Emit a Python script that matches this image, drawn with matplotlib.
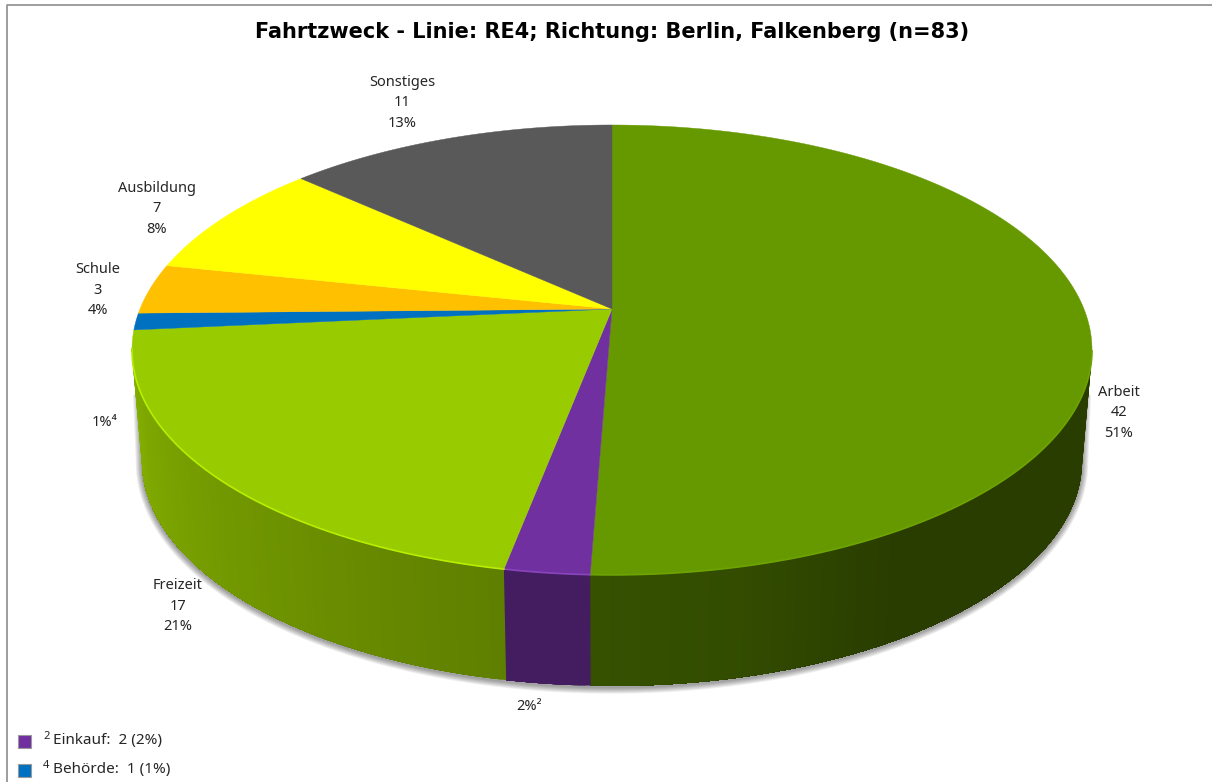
#!/usr/env/python
import numpy as np
from matplotlib import pyplot as plt
from matplotlib.patches import Rectangle

plt.rcParams['font.family'] = ['Noto Sans', 'DejaVu Sans']

# data, clockwise from the top
names = ['Arbeit', 'Einkauf', 'Freizeit', 'Behörde', 'Schule', 'Ausbildung', 'Sonstiges']
values = [42, 2, 17, 1, 3, 7, 11]
percents = [51, 2, 21, 1, 4, 8, 13]
colors = ['#669900', '#7030A0', '#99CC00', '#0070C0', '#FFC000', '#FFFF00', '#595959']
rim_colors = ['#6ea400', '#8a45bd', '#b8ee00', '#0070C0', '#FFC000', '#FFFF00', '#595959']
title = 'Fahrtzweck - Linie: RE4; Richtung: Berlin, Falkenberg (n=83)'

# where the labels sit (pixels)
label_pos = {'Arbeit': (1119, 412), 'Freizeit': (178, 605), 'Schule': (98, 289),
             'Ausbildung': (157, 208), 'Sonstiges': (402, 102)}
note_pos = {'Einkauf': (529, 706, '²'), 'Behörde': (105, 421, '⁴')}
legend_y = [741.5, 770.5]
legend_names = ['Einkauf', 'Behörde']
legend_marks = ['2', '4']

# pie geometry in pixels, slight perspective so the apex is behind the centre
cx, cy = 612, 309
depth = 111
k = -0.182
A = 472.0
B = 217.5
base_scale = 470 / 480
wall_from, wall_to = np.radians(100), np.radians(260)
txt = '#262626'


def rim(theta, scale=1.0, dy=0.0):
    u = np.sin(theta)
    v = -np.cos(theta)
    d = 1 + k * v
    return cx + scale * A * u / d, cy + dy + B * v / d


def shade(theta, name):
    # wall brightness along the front of the pie
    deg = np.degrees(theta)
    if name == 'Einkauf':
        return 0.60
    return np.interp(deg, [100, 150, 168, 182, 191, 260], [0.40, 0.40, 0.50, 0.53, 0.62, 0.87])


def darken(col, f):
    rgb = np.array(plt.matplotlib.colors.to_rgb(col))
    return tuple(rgb * f)


fig = plt.figure(figsize=(12.12, 7.82), dpi=100)
ax = fig.add_axes([0, 0, 1, 1])
ax.set_xlim(0, 1212)
ax.set_ylim(782, 0)
ax.axis('off')

# frame lines
ax.plot([7, 7, 1212], [782, 5, 5], color='#8c8c8c', lw=1.2)

edges = np.cumsum([0] + values) / sum(values) * 2 * np.pi

# soft shadow round the wall, starts partway down the sides
front = np.linspace(wall_from, wall_to, 300)
bx, by = rim(front, base_scale, depth)
tx0, ty0 = rim(wall_from, 0.985, 45)
tx1, ty1 = rim(wall_to, 0.985, 45)
sx = np.r_[tx0, bx, tx1]
sy = np.r_[ty0, by, ty1]
for lw in np.arange(9, 1, -1.5):
    ax.plot(sx, sy + 1.5, color='black', alpha=0.07, lw=lw, solid_capstyle='butt', zorder=1)

# side wall, each strip overpaints the rest of its slice so no seams show
for name, a0, a1, col in zip(names, edges[:-1], edges[1:], colors):
    lo = max(a0, wall_from)
    hi = min(a1, wall_to)
    if hi <= lo:
        continue
    n = max(2, int(np.degrees(hi - lo) * 2))
    th = np.linspace(lo, hi, n + 1)
    for i in range(n):
        seg = th[i:]
        x1, y1 = rim(seg)
        x2, y2 = rim(seg, base_scale, depth)
        fc = darken(col, shade((th[i] + th[i + 1]) / 2, name))
        ax.fill(np.r_[x1, x2[::-1]], np.r_[y1, y2[::-1]], color=fc, lw=0, zorder=2)

# top surface
for a0, a1, col, rc in zip(edges[:-1], edges[1:], colors, rim_colors):
    th = np.linspace(a0, a1, 200)
    x, y = rim(th)
    ax.fill(np.r_[cx, x], np.r_[cy, y], color=col, lw=0.3, ec=col, zorder=3)
    vis = th[(th > wall_from) & (th < wall_to)]
    if vis.size:
        xr, yr = rim(vis)
        ax.plot(xr, yr, color=rc, lw=1.2, zorder=4)

# labels
for name, val, pct in zip(names, values, percents):
    if name in label_pos:
        x, y = label_pos[name]
        for off, s in zip([-20.5, 0, 20.5], [name, str(val), '%d%%' % pct]):
            ax.text(x, y + off + 1, s, ha='center', va='center', fontsize=10.5, color=txt, zorder=5)
    else:
        x, y, mark = note_pos[name]
        ax.text(x, y + 1, '%d%%%s' % (pct, mark), ha='center', va='center', fontsize=10.5, color=txt, zorder=5)

# small slices legend
for name, mark, y in zip(legend_names, legend_marks, legend_y):
    i = names.index(name)
    ax.add_patch(Rectangle((18, y - 6.5), 13, 13, fc=colors[i], ec='#9a9a9a', lw=0.8, zorder=5))
    ax.text(43, y - 5, mark, ha='left', va='center', fontsize=8, color=txt, zorder=5)
    ax.text(53, y - 1, '%s:  %d (%d%%)' % (name, values[i], percents[i]), ha='left', va='center',
            fontsize=11, color=txt, zorder=5)

ax.text(612, 32, title, ha='center', va='center', fontsize=15, fontweight='bold',
        family=['DejaVu Sans'], color='black', zorder=5)

plt.savefig('out.png', dpi=100)
